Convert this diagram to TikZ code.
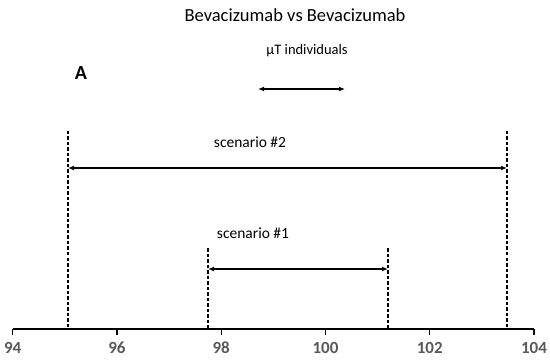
\documentclass[tikz,border=0pt]{standalone}
\usepackage{fontspec}
\setmainfont{Carlito}
\usetikzlibrary{positioning,arrows.meta}

\definecolor{axisgray}{HTML}{595959}

\begin{document}
\begin{tikzpicture}[x=1pt,y=-1pt,
    spanarrow/.style={{Latex[length=6pt,width=5pt]}-{Latex[length=6pt,width=5pt]},line width=1.2pt},
    limit/.style={dash pattern=on 3.5pt off 2pt,line width=1.2pt},
    ticklabel/.style={font=\fontsize{17}{17}\selectfont\bfseries,text=axisgray},
    midtext/.style={font=\fontsize{15.5}{15.5}\selectfont}]
\useasboundingbox (0,0) rectangle (550,361);

% titles
\node[font=\fontsize{18.5}{18.5}\selectfont] (title) at (295,15) {Bevacizumab vs Bevacizumab};
\node[font=\fontsize{20}{20}\selectfont\bfseries] (panel) at (81,73) {A};
\node[font=\fontsize{14.5}{14.5}\selectfont] (mut) at (307,51) {µT individuals};

% mu T arrow
\coordinate (muL) at (258,89);
\coordinate (muR) at (345,89);
\draw[spanarrow] (muL) -- (muR);

% axis
\coordinate (ax0) at (12.7,329);
\coordinate (ax1) at (534,329);
\draw[line width=1.3pt] (ax0) -- (ax1);
\foreach \v in {94,96,...,104} {
  \draw[line width=1.3pt] (12.7+52.13*\v-52.13*94,329) -- ++(0,6)
    node[ticklabel,below=3pt] (t\v) {\v};
}

% scenario #2
\coordinate (s2a) at (68,131);
\coordinate (s2b) at (507,131);
\draw[limit] (s2a) -- (s2a |- ax0);
\draw[limit] (s2b) -- (s2b |- ax0);
\coordinate (s2L) at (68,168);
\coordinate (s2R) at (507,168);
\draw[spanarrow] (s2L) -- (s2R);
\node[midtext] (sc2) at (250,142) {scenario \#2};

% scenario #1
\coordinate (s1a) at (208,248);
\coordinate (s1b) at (388,248);
\draw[limit] (s1a) -- (s1a |- ax0);
\draw[limit] (s1b) -- (s1b |- ax0);
\coordinate (s1L) at (208,269);
\coordinate (s1R) at (388,269);
\draw[spanarrow] (s1L) -- (s1R);
\node[midtext] (sc1) at (253,233) {scenario \#1};
\end{tikzpicture}
\end{document}
